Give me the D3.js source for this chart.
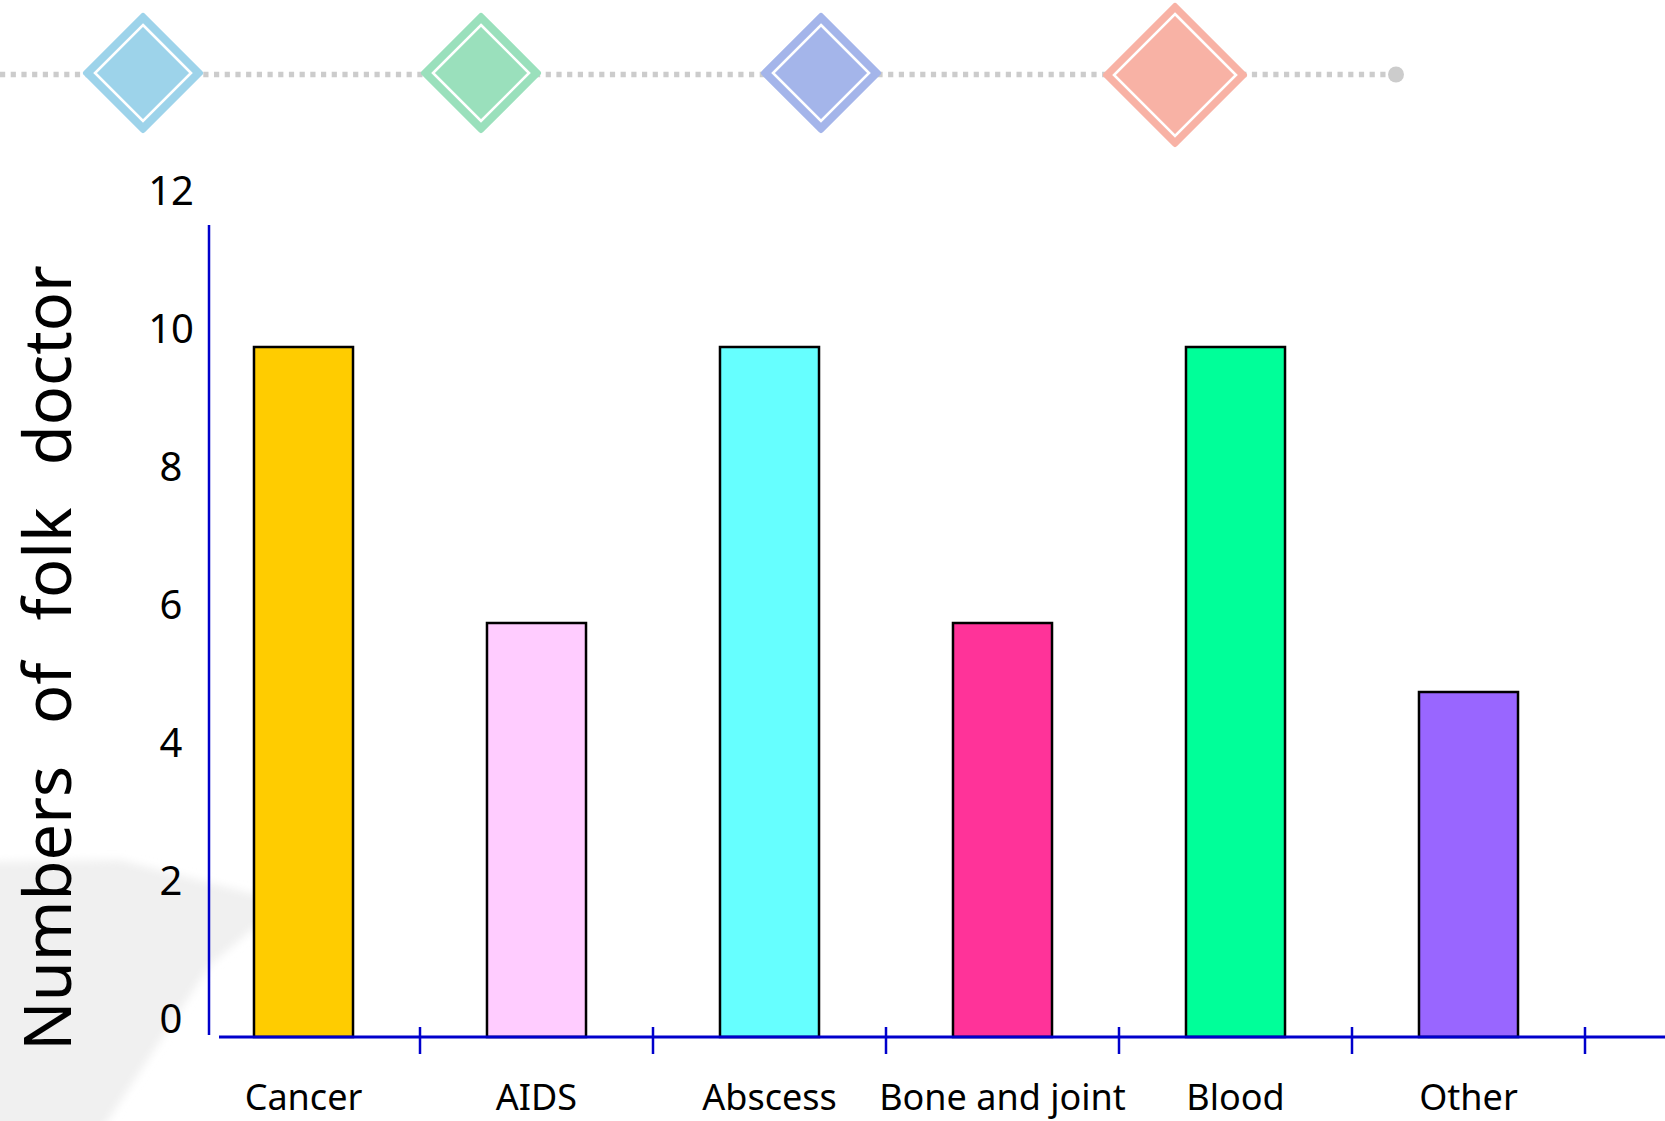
<!DOCTYPE html>
<html>
<head>
<meta charset="utf-8">
<script src="https://cdn.jsdelivr.net/npm/d3@7"></script>
<style>
  html, body { margin: 0; padding: 0; background: #ffffff; }
  svg { display: block; }
</style>
</head>
<body>
<script>
// ---- data ----
const categories = ["Cancer", "AIDS", "Abscess", "Bone and joint", "Blood", "Other"];
const values = [10, 6, 10, 6, 10, 5];
const barColors = ["#FFCC00", "#FFCCFF", "#66FFFF", "#FF3399", "#00FF99", "#9966FF"];
const yTickValues = [0, 2, 4, 6, 8, 10, 12];
const yTitle = "Numbers of folk doctor";

// ---- layout ----
const W = 1665, H = 1121;
const svg = d3.select("body").append("svg").attr("width", W).attr("height", H);

const defs = svg.append("defs");
defs.append("filter").attr("id", "blur").attr("x", "-20%").attr("y", "-20%").attr("width", "140%").attr("height", "140%")
  .append("feGaussianBlur").attr("stdDeviation", 4);

// background swoosh (decorative)
svg.append("path")
  .attr("d", "M -20 862 L 120 860 L 285 902 L 210 965 L 95 1140 L -20 1140 Z")
  .attr("fill", "#f0f0f0")
  .attr("filter", "url(#blur)");

// ---- header decoration ----
const decoY = 74.5;
svg.append("line")
  .attr("x1", 0).attr("x2", 1390).attr("y1", decoY).attr("y2", decoY)
  .attr("stroke", "#cccccc").attr("stroke-width", 5.5).attr("stroke-dasharray", "5.2,5.5");
svg.append("circle").attr("cx", 1396).attr("cy", decoY).attr("r", 8).attr("fill", "#cccccc");

const diamonds = [
  { color: "#9DD3EA", cx: 143, cy: 73, r: 60, inset: 12 },
  { color: "#9AE0BC", cx: 481, cy: 73, r: 60, inset: 12 },
  { color: "#A4B5EA", cx: 821, cy: 73, r: 60, inset: 12 },
  { color: "#F8B2A5", cx: 1175, cy: 75, r: 72, inset: 11 }
];
const diamondPath = (cx, cy, r) => `M ${cx} ${cy - r} L ${cx + r} ${cy} L ${cx} ${cy + r} L ${cx - r} ${cy} Z`;
const dg = svg.append("g");
dg.selectAll("path.outer").data(diamonds).join("path")
  .attr("class", "outer")
  .attr("d", d => diamondPath(d.cx, d.cy, d.r - 3))
  .attr("fill", d => d.color).attr("stroke", d => d.color)
  .attr("stroke-width", 6).attr("stroke-linejoin", "round");
dg.selectAll("path.inner").data(diamonds).join("path")
  .attr("class", "inner")
  .attr("d", d => diamondPath(d.cx, d.cy, d.r - d.inset))
  .attr("fill", "none").attr("stroke", "#ffffff").attr("stroke-width", 2.6);

// ---- scales ----
const y = d3.scaleLinear().domain([0, 12]).range([1037, 209]);
const x = d3.scaleBand().domain(categories).range([187, 1585]).paddingInner(0.575).paddingOuter(0.2875);
const step = x.step();

const axisColor = "#0000CC";
const font = "'Noto Sans', 'Open Sans', sans-serif";

// ---- bars ----
svg.append("g").selectAll("rect").data(categories).join("rect")
  .attr("x", d => x(d))
  .attr("y", (d, i) => y(values[i]))
  .attr("width", x.bandwidth())
  .attr("height", (d, i) => y(0) - y(values[i]))
  .attr("fill", (d, i) => barColors[i])
  .attr("stroke", "#000000").attr("stroke-width", 2.5);

// ---- y axis ----
svg.append("line")
  .attr("x1", 209).attr("x2", 209).attr("y1", 225).attr("y2", 1035)
  .attr("stroke", axisColor).attr("stroke-width", 2.5);

const yAxis = d3.axisLeft(y).tickValues(yTickValues).tickSize(0).tickPadding(0).tickFormat(d3.format("d"));
const yAxisG = svg.append("g").attr("transform", "translate(171,-17)").call(yAxis);
yAxisG.select(".domain").remove();
yAxisG.selectAll("text")
  .attr("text-anchor", "middle")
  .attr("x", 0)
  .attr("fill", "#000")
  .style("font-family", font)
  .style("font-size", "40px");

// ---- x axis ----
svg.append("line")
  .attr("x1", 219).attr("x2", W).attr("y1", y(0)).attr("y2", y(0))
  .attr("stroke", axisColor).attr("stroke-width", 3);

svg.append("g").selectAll("line").data(categories).join("line")
  .attr("x1", d => x(d) + x.bandwidth() / 2 + step / 2)
  .attr("x2", d => x(d) + x.bandwidth() / 2 + step / 2)
  .attr("y1", y(0) - 10).attr("y2", y(0) + 17)
  .attr("stroke", axisColor).attr("stroke-width", 2.5);

svg.append("g").selectAll("text").data(categories).join("text")
  .attr("x", d => x(d) + x.bandwidth() / 2)
  .attr("y", 1110)
  .attr("text-anchor", "middle")
  .style("font-family", font)
  .style("font-size", "36px")
  .attr("fill", "#000")
  .text(d => d);

// ---- y title ----
svg.append("text")
  .attr("transform", "translate(71,658) rotate(-90)")
  .attr("text-anchor", "middle")
  .style("font-family", font)
  .style("font-size", "65px")
  .style("word-spacing", "25px")
  .attr("fill", "#000")
  .text(yTitle);
</script>
</body>
</html>
